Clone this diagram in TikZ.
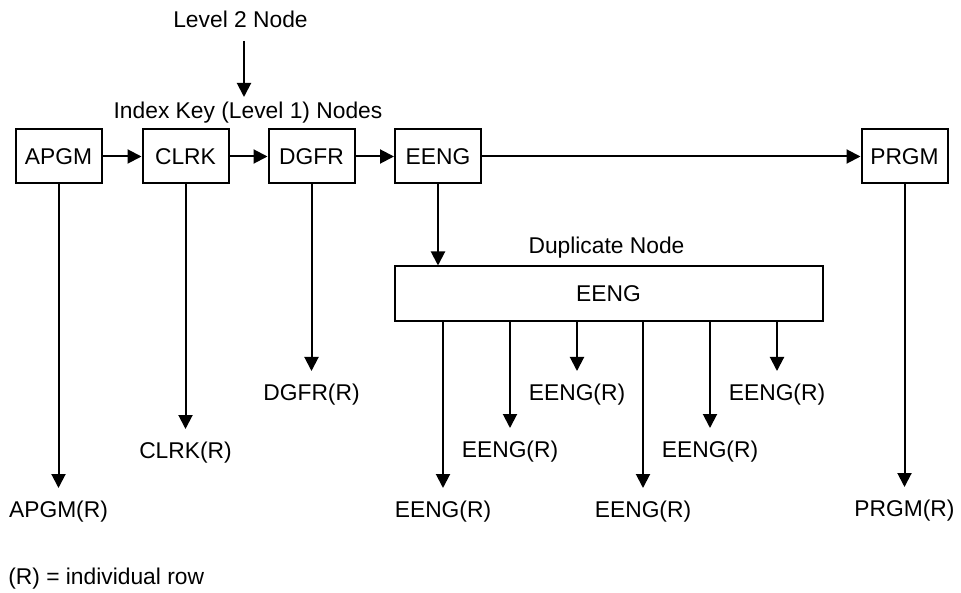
\documentclass[tikz,border=0pt]{standalone}
\usepackage{fontspec}
\setmainfont{Liberation Sans}
\usetikzlibrary{arrows.meta}
\begin{document}
\begin{tikzpicture}[x=1pt,y=-1pt,
  font=\fontsize{22.8}{27}\selectfont,
  line width=2pt,
  keybox/.style={draw, minimum width=86pt, minimum height=54pt, inner sep=0pt},
  arr/.style={-{Triangle[length=14pt,width=14pt]}},
  rowlbl/.style={inner xsep=0pt, inner ysep=12pt, text height=16.5pt, text depth=4.8pt, anchor=north},
  txt/.style={inner sep=0pt, anchor=base}]
\useasboundingbox (0,0) rectangle (961,593);

% index key nodes
\node[keybox] (apgm) at (58.5,156.5) {APGM};
\node[keybox] (clrk) at (185.5,156.5) {CLRK};
\node[keybox] (dgfr) at (311.5,156.5) {DGFR};
\node[keybox] (eeng) at (438,156.5) {EENG};
\node[keybox] (prgm) at (904.5,156.5) {PRGM};

\draw[arr] (apgm) -- (clrk);
\draw[arr] (clrk) -- (dgfr);
\draw[arr] (dgfr) -- (eeng);
\draw[arr] (eeng) -- (prgm);

% level 2 and captions
\node[txt] (lvl2) at (240.5,27.5) {Level 2 Node};
\node[txt] (idx) at (248,118.3) {Index Key (Level 1) Nodes};
\coordinate (l2top) at (244,41);
\coordinate (l2tip) at (244,97);
\draw[arr] (l2top) -- (l2tip);

% duplicate node
\node[txt] (dupl) at (606.5,253.3) {Duplicate Node};
\node[keybox, minimum width=428pt, minimum height=55pt] (dup) at (608.5,294) {EENG};
\draw[arr] (eeng) -- (eeng |- dup.north);

% row labels
\node[rowlbl] (apgmr) at (58.5,488) {APGM(R)};
\node[rowlbl] (clrkr) at (185.5,429) {CLRK(R)};
\node[rowlbl] (dgfrr) at (311.5,371) {DGFR(R)};
\node[rowlbl] (prgmr) at (904.5,487) {PRGM(R)};
\draw[arr] (apgm) -- (apgmr);
\draw[arr] (clrk) -- (clrkr);
\draw[arr] (dgfr) -- (dgfrr);
\draw[arr] (prgm) -- (prgmr);

\node[rowlbl] (e1) at (443,488) {EENG(R)};
\node[rowlbl] (e2) at (510,428) {EENG(R)};
\node[rowlbl] (e3) at (577,371) {EENG(R)};
\node[rowlbl] (e4) at (643,488) {EENG(R)};
\node[rowlbl] (e5) at (710,428) {EENG(R)};
\node[rowlbl] (e6) at (777,371) {EENG(R)};
\foreach \e in {e1,e2,e3,e4,e5,e6}
  \draw[arr] (\e |- dup.south) -- (\e);

% legend
\node[txt, anchor=base west] (note) at (7.3,584) {(R) = individual row};
\end{tikzpicture}
\end{document}
